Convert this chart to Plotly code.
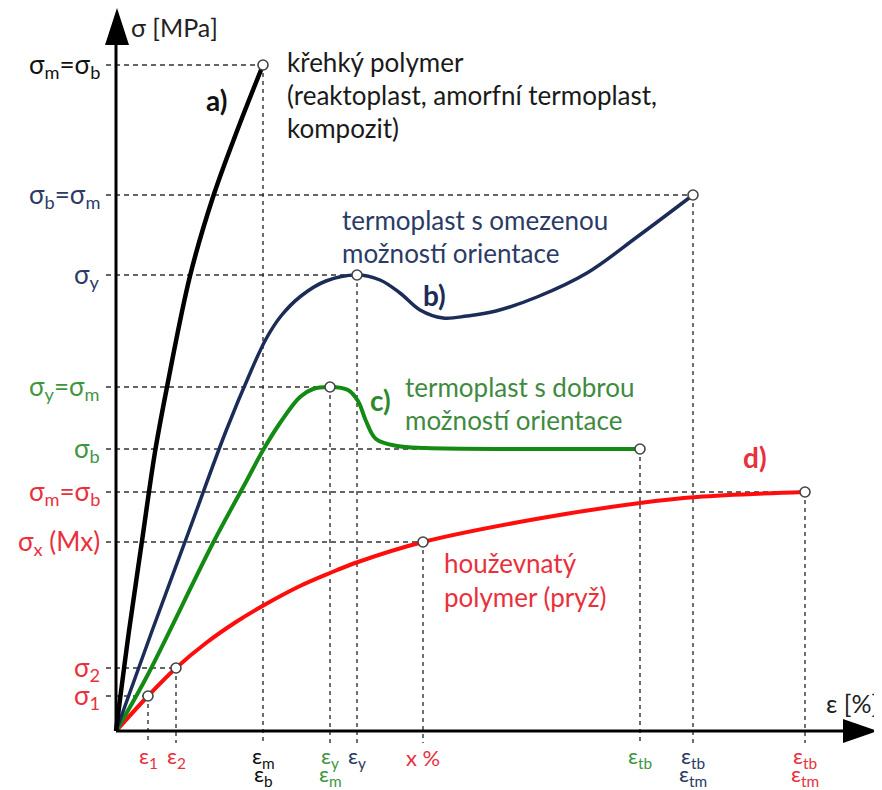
import plotly.graph_objects as go

# ---------------- data (schematic units: strain eps, stress sigma) ----------------
# a) brittle polymer
a_eps = [0, 13, 26, 39, 51, 74, 97, 121, 147]
a_sig = [0, 100, 190, 279, 344, 455, 534, 600, 666]
# b) thermoplastic with limited orientation
b_eps = [0, 36, 73, 110, 135, 150, 165, 185, 210, 241, 264, 284, 304, 327, 351, 380, 421, 471, 521, 577]
b_sig = [0, 100, 200, 300, 360, 392, 415, 435, 450, 456, 451, 438, 421, 413, 415, 420, 434, 458, 494, 536]
# c) thermoplastic with good orientation
c_eps = [0, 29, 97, 131, 146, 164, 184, 197, 214, 232, 242, 250, 260, 281, 310, 400, 524]
c_sig = [0, 51, 188, 251, 279, 308, 334, 342, 344, 341, 330, 310, 292, 285, 283, 282, 282]
# d) tough polymer (rubber)
d_eps = [0, 32, 60, 90, 120, 150, 184, 214, 242, 307, 420, 524, 581, 689]
d_sig = [0, 35, 63, 88, 109, 127, 145, 158, 169, 189, 212, 228, 234, 239]

# characteristic points (open circles)
pt_eps = [147, 241, 577, 214, 524, 32, 60, 307, 689]
pt_sig = [666, 456, 536, 344, 282, 35, 63, 189, 239]

# stress tick labels, their levels and how far the guide runs
sig_levels = [666, 536, 456, 344, 282, 239, 189, 63, 35]
sig_reach = [147, 577, 241, 214, 524, 689, 307, 60, 32]
sig_texts = ["σ<sub>m</sub>=σ<sub>b</sub>", "σ<sub>b</sub>=σ<sub>m</sub>", "σ<sub>y</sub>",
             "σ<sub>y</sub>=σ<sub>m</sub>", "σ<sub>b</sub>", "σ<sub>m</sub>=σ<sub>b</sub>",
             "σ<sub>x</sub> (Mx)", "σ<sub>2</sub>", "σ<sub>1</sub>"]
sig_colors = ["#111111", "#2b3b66", "#2b3b66", "#3f963f", "#3f963f", "#e8313d", "#e8313d", "#e8313d", "#e8313d"]

# strain tick labels
eps_levels = [32, 60, 147, 214, 241, 307, 524, 577, 689]
eps_top = [35, 63, 666, 344, 456, 189, 282, 536, 239]
eps_text1 = ["ε<sub>1</sub>", "ε<sub>2</sub>", "ε<sub>m</sub>", "ε<sub>y</sub>", "ε<sub>y</sub>", "x %",
             "ε<sub>tb</sub>", "ε<sub>tb</sub>", "ε<sub>tb</sub>"]
eps_text2 = ["", "", "ε<sub>b</sub>", "ε<sub>m</sub>", "", "", "", "ε<sub>tm</sub>", "ε<sub>tm</sub>"]
eps_colors = ["#e8313d", "#e8313d", "#111111", "#3f963f", "#2b3b66", "#e8313d", "#3f963f", "#2b3b66", "#e8313d"]

FONT = "Lato"
BLACK, BLUE, GREEN, RED = "#000000", "#1c2c58", "#138a13", "#ff0d0d"
GUIDE = "#333333"

fig = go.Figure()

# guide lines
for lvl, reach in zip(sig_levels, sig_reach):
    fig.add_trace(go.Scatter(x=[-10, reach], y=[lvl, lvl], mode="lines",
                             line=dict(color=GUIDE, width=1.4, dash="5px,4px"),
                             hoverinfo="skip", showlegend=False))
for e, top in zip(eps_levels, eps_top):
    fig.add_trace(go.Scatter(x=[e, e], y=[top, -12], mode="lines",
                             line=dict(color=GUIDE, width=1.4, dash="4px,4px"),
                             hoverinfo="skip", showlegend=False))

# curves
for xs, ys, col, w in [(d_eps, d_sig, RED, 4), (c_eps, c_sig, GREEN, 4),
                       (b_eps, b_sig, BLUE, 3.5), (a_eps, a_sig, BLACK, 4.5)]:
    fig.add_trace(go.Scatter(x=xs, y=ys, mode="lines",
                             line=dict(color=col, width=w, shape="spline", smoothing=1.0),
                             hoverinfo="skip", showlegend=False))

# characteristic points
fig.add_trace(go.Scatter(x=pt_eps, y=pt_sig, mode="markers",
                         marker=dict(symbol="circle", size=10, color="white",
                                     line=dict(color="#444444", width=1.6)),
                         hoverinfo="skip", showlegend=False))

# axes with arrows
shapes = [
    dict(type="line", x0=0, y0=0, x1=735, y1=0, line=dict(color="black", width=3)),
    dict(type="line", x0=0, y0=0, x1=0, y1=690, line=dict(color="black", width=3)),
    dict(type="path", path="M 727,-12 L 762,0 L 727,12 Z", fillcolor="black", line=dict(width=0)),
    dict(type="path", path="M -11,686 L 1,723 L 13,686 Z", fillcolor="black", line=dict(width=0)),
]

ann = []
for lvl, txt, col in zip(sig_levels, sig_texts, sig_colors):
    ann.append(dict(x=-14, y=lvl, text=txt, xanchor="right", yanchor="middle",
                    font=dict(family=FONT, size=26, color=col)))
for e, t1, t2, col in zip(eps_levels, eps_text1, eps_text2, eps_colors):
    ann.append(dict(x=e, y=-26, text=t1, xanchor="center", yanchor="middle",
                    font=dict(family=FONT, size=22, color=col)))
    if t2:
        ann.append(dict(x=e, y=-44, text=t2, xanchor="center", yanchor="middle",
                        font=dict(family=FONT, size=22, color=col)))

ann.append(dict(x=13, y=704, text="σ [MPa]", xanchor="left", yanchor="middle",
                font=dict(family=FONT, size=25, color="#222222")))
ann.append(dict(x=708, y=28, text="ε [%]", xanchor="left", yanchor="middle",
                font=dict(family=FONT, size=25, color="#222222")))

# curve tags
for x, y, t, col in [(100, 631, "a)", "#111111"), (318, 436, "b)", "#1c2c58"),
                     (264, 331, "c)", "#2f8a2f"), (639, 274, "d)", "#e8313d")]:
    ann.append(dict(x=x, y=y, text="<b>" + t + "</b>", xanchor="center", yanchor="middle",
                    font=dict(family=FONT, size=28, color=col)))

# descriptions
desc = [
    (169, [669, 636, 603], ["křehký polymer", "(reaktoplast, amorfní termoplast,", "kompozit)"], "#1a1a1a"),
    (224, [511, 478], ["termoplast s omezenou", "možností orientace"], "#2b3b66"),
    (287, [344, 311], ["termoplast s dobrou", "možností orientace"], "#3f8a3f"),
    (326, [168, 134], ["houževnatý", "polymer (pryž)"], "#e8313d"),
]
for x, ys, lines, col in desc:
    for y, t in zip(ys, lines):
        ann.append(dict(x=x, y=y, text=t, xanchor="left", yanchor="middle",
                        font=dict(family=FONT, size=26, color=col)))

for a in ann:
    a.update(xref="x", yref="y", showarrow=False)

# the page body has an 8px margin: size and range compensate so units match the image
fig.update_layout(
    width=874, height=782,
    margin=dict(l=0, r=0, t=0, b=0),
    paper_bgcolor="white", plot_bgcolor="white",
    xaxis=dict(range=[-108, 766], visible=False, fixedrange=True),
    yaxis=dict(range=[-59, 723], visible=False, fixedrange=True),
    shapes=shapes, annotations=ann, showlegend=False,
)

fig.write_html("out.html")
